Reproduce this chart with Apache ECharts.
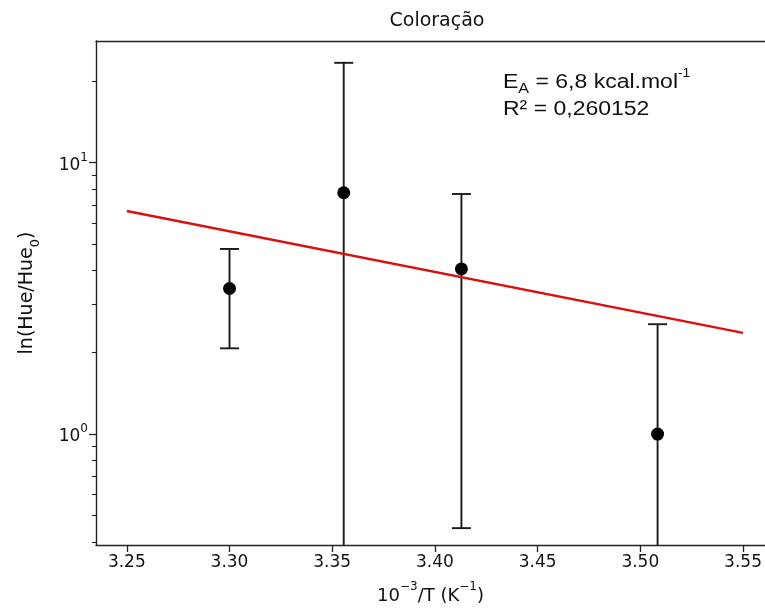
<!DOCTYPE html>
<html>
<head>
<meta charset="utf-8">
<script src="https://cdn.jsdelivr.net/npm/echarts@6/dist/echarts.min.js"></script>
<style>
  html, body { margin: 0; padding: 0; background: #fff; }
  #chart { width: 765px; height: 610px; }
</style>
</head>
<body>
<div id="chart"></div>
<script>
// Inverse temperature (10^-3/T) for each sample
const invTemp = [3.300, 3.3556, 3.4129, 3.5084];
// Mean ln(Hue/Hue0) and symmetric error at each temperature
const meanValue = [3.44, 7.75, 4.06, 1.00];
const errValue = [1.37, 15.6, 3.61, 1.54];
// Fitted Arrhenius trend, evaluated at the ends of the range
const fitX = [3.25, 3.55];
const fitY = [6.64, 2.36];
// Axis ticks
const xTicks = [3.25, 3.30, 3.35, 3.40, 3.45, 3.50, 3.55];
const yMajorTicks = [1, 10];
const yMinorTicks = [0.4, 0.5, 0.6, 0.7, 0.8, 0.9, 2, 3, 4, 5, 6, 7, 8, 9, 20];

// Visible window of the axes (the plot runs past the right edge of the canvas)
const X_MIN = 3.235, X_MAX = 3.5607;
const Y_MIN = 0.39, Y_MAX = 28.1;

const tickFont = 'DejaVu Sans';
const ink = '#111';

const chart = echarts.init(document.getElementById('chart'), null, { renderer: 'canvas' });

const errData = invTemp.map((x, i) => [x, meanValue[i], errValue[i]]);

const option = {
  animation: false,
  backgroundColor: '#ffffff',
  title: {
    text: 'Coloração',
    left: 432,
    top: 7,
    textAlign: 'center',
    textStyle: { fontFamily: tickFont, fontWeight: 'normal', fontSize: 19, color: ink }
  },
  grid: { left: 96, top: 41, right: 0, height: 504, show: false },
  xAxis: [
    {
      type: 'value', min: X_MIN, max: X_MAX,
      name: '{t|10}{s|−3}{t|/T (K}{s|−1}{t|)}', nameLocation: 'middle', nameGap: 36,
      nameTextStyle: {
        rich: {
          t: { fontFamily: tickFont, fontSize: 18, color: ink, verticalAlign: 'bottom', lineHeight: 24 },
          s: { fontFamily: tickFont, fontSize: 12, color: ink, verticalAlign: 'top', lineHeight: 24, padding: [0, 0, 7, 0] }
        }
      },
      axisLine: { show: true, onZero: false, lineStyle: { color: '#222', width: 1.4 } },
      axisTick: { show: true, length: 7, customValues: xTicks, lineStyle: { color: '#222', width: 1.3 } },
      axisLabel: {
        customValues: xTicks, margin: 9,
        formatter: v => v.toFixed(2),
        fontFamily: tickFont, fontSize: 17, color: ink
      },
      splitLine: { show: false }
    },
    {
      // top spine
      type: 'value', min: X_MIN, max: X_MAX, position: 'top',
      axisLine: { show: true, onZero: false, lineStyle: { color: '#222', width: 1.4 } },
      axisTick: { show: false }, axisLabel: { show: false }, splitLine: { show: false }
    }
  ],
  yAxis: [
    {
      type: 'log', logBase: 10, min: Y_MIN, max: Y_MAX,
      name: '{t|ln(Hue/Hue}{b|0}{t|)}', nameLocation: 'middle', nameGap: 54,
      nameTextStyle: {
        rich: {
          t: { fontFamily: tickFont, fontSize: 19, color: ink, verticalAlign: 'top', lineHeight: 24 },
          b: { fontFamily: tickFont, fontSize: 13, color: ink, verticalAlign: 'bottom', lineHeight: 24, padding: [6, 0, 0, 0] }
        }
      },
      axisLine: { show: true, onZero: false, lineStyle: { color: '#222', width: 1.4 } },
      axisTick: { show: true, length: 7, customValues: yMajorTicks, lineStyle: { color: '#222', width: 1.3 } },
      axisLabel: {
        customValues: yMajorTicks, margin: 8,
        formatter: v => '{t|10}{s|' + Math.round(Math.log10(v)) + '}',
        rich: {
          t: { fontFamily: tickFont, fontSize: 17, color: ink, verticalAlign: 'bottom', lineHeight: 22 },
          s: { fontFamily: tickFont, fontSize: 12, color: ink, verticalAlign: 'top', lineHeight: 22, padding: [0, 0, 6, 0] }
        }
      },
      splitLine: { show: false }
    },
    {
      // minor ticks of the log axis
      type: 'log', logBase: 10, min: Y_MIN, max: Y_MAX, position: 'left',
      axisLine: { show: false },
      axisTick: { show: true, length: 4, customValues: yMinorTicks, lineStyle: { color: '#222', width: 1.1 } },
      axisLabel: { show: false },
      splitLine: { show: false }
    }
  ],
  graphic: [
    {
      type: 'text', x: 503, y: 68, scaleX: 1.15, z: 10,
      style: {
        text: '{m|E}{sub|A}{m| = 6,8 kcal.mol}{sup|-1}',
        rich: {
          m: { fontFamily: 'Liberation Sans', fontSize: 20, fill: ink, verticalAlign: 'bottom', lineHeight: 24 },
          sub: { fontFamily: 'Liberation Sans', fontSize: 14, fill: ink, verticalAlign: 'bottom', lineHeight: 24, padding: [0, 0, -4, 0] },
          sup: { fontFamily: 'Liberation Sans', fontSize: 12, fill: ink, verticalAlign: 'top', lineHeight: 24, padding: [0, 0, 6, 0] }
        }
      }
    },
    {
      type: 'text', x: 503, y: 99, scaleX: 1.15, z: 10,
      style: { text: 'R² = 0,260152', fontFamily: 'Liberation Sans', fontSize: 20, fill: ink }
    }
  ],
  series: [
    {
      name: 'ajuste',
      type: 'line',
      data: fitX.map((x, i) => [x, fitY[i]]),
      showSymbol: false, symbol: 'none',
      lineStyle: { color: '#d81010', width: 2.4 },
      z: 3
    },
    {
      name: 'erro',
      type: 'custom',
      data: errData,
      z: 2,
      renderItem: function (params, api) {
        const x = api.value(0), y = api.value(1), e = api.value(2);
        const hi = y + e;
        const lo = y - e;
        const clippedLo = lo <= Y_MIN;
        const pHi = api.coord([x, Math.min(hi, Y_MAX)]);
        const pLo = api.coord([x, clippedLo ? Y_MIN : lo]);
        const half = 9.5;
        const style = { stroke: '#1a1a1a', lineWidth: 1.9, fill: null };
        const children = [
          { type: 'line', shape: { x1: pHi[0], y1: pHi[1], x2: pLo[0], y2: pLo[1] }, style: style }
        ];
        if (hi <= Y_MAX) {
          children.push({ type: 'line', shape: { x1: pHi[0] - half, y1: pHi[1], x2: pHi[0] + half, y2: pHi[1] }, style: style });
        }
        if (!clippedLo) {
          children.push({ type: 'line', shape: { x1: pLo[0] - half, y1: pLo[1], x2: pLo[0] + half, y2: pLo[1] }, style: style });
        }
        return { type: 'group', children: children };
      }
    },
    {
      name: 'média',
      type: 'scatter',
      data: invTemp.map((x, i) => [x, meanValue[i]]),
      symbol: 'circle', symbolSize: 13,
      itemStyle: { color: '#000', opacity: 1 },
      z: 4
    }
  ]
};

chart.setOption(option);
</script>
</body>
</html>
